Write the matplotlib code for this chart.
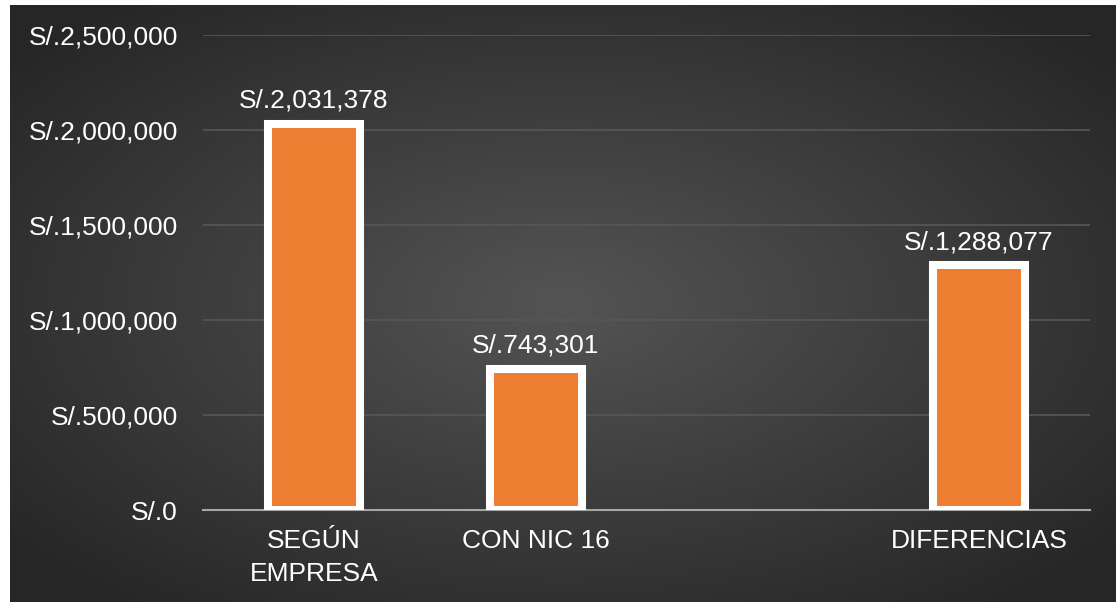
import numpy as np
import matplotlib
matplotlib.use("Agg")
import matplotlib.pyplot as plt
from matplotlib.ticker import FuncFormatter

# categories (the third slot is empty in the original chart)
categories = ["SEGÚN\nEMPRESA", "CON NIC 16", "", "DIFERENCIAS"]
values = [2031378, 743301, None, 1288077]
y_ticks = [0, 500000, 1000000, 1500000, 2000000, 2500000]

plt.rcParams["font.family"] = ["Liberation Sans", "DejaVu Sans"]

W, H = 1116, 602
fig = plt.figure(figsize=(W / 100, H / 100), dpi=100)
fig.patch.set_facecolor("white")

# dark radial-gradient background
bg = fig.add_axes([10 / W, 0, 1 - 10 / W, 597 / H])
gx, gy = np.meshgrid(np.linspace(-1, 1, 400), np.linspace(-1, 1, 220))
r = np.clip(np.sqrt(gx ** 2 + gy ** 2) / 1.3, 0, 1)
shade = 0.33 - 0.18 * r
bg.imshow(np.dstack([shade, shade, shade]), aspect="auto", extent=[0, 1, 0, 1])
bg.set_axis_off()

ax = fig.add_axes([203 / W, (H - 510) / H, (1090 - 203) / W, (510 - 35) / H])
ax.set_facecolor("none")

idx = [i for i, v in enumerate(values) if v is not None]
vals = [values[i] for i in idx]
bars = ax.bar(idx, vals, width=0.415, color="#ED7D31", edgecolor="white",
              linewidth=5.8, zorder=3)
ax.bar_label(bars, labels=["S/.{:,.0f}".format(v) for v in vals], padding=8,
             color="white", fontsize=19)

ax.set_xlim(-0.5, len(categories) - 0.5)
ax.set_ylim(0, 2500000)
ax.set_yticks(y_ticks)
ax.yaxis.set_major_formatter(FuncFormatter(lambda v, p: "S/.{:,.0f}".format(v)))
ax.set_xticks(range(len(categories)))
ax.set_xticklabels(categories, multialignment="center")
for t in ax.get_xticklabels():
    t.set_linespacing(1.45)
ax.tick_params(axis="both", length=0, colors="white", labelsize=19)
ax.tick_params(axis="y", pad=18)
ax.tick_params(axis="x", pad=14)

ax.grid(axis="y", color="#575757", linewidth=1.2, zorder=0)
for s in ["top", "right", "left"]:
    ax.spines[s].set_visible(False)
ax.spines["bottom"].set_color("#a6a6a6")
ax.spines["bottom"].set_linewidth(1.5)
ax.spines["bottom"].set_zorder(2)

fig.savefig("out.png", dpi=100, facecolor=fig.get_facecolor())
